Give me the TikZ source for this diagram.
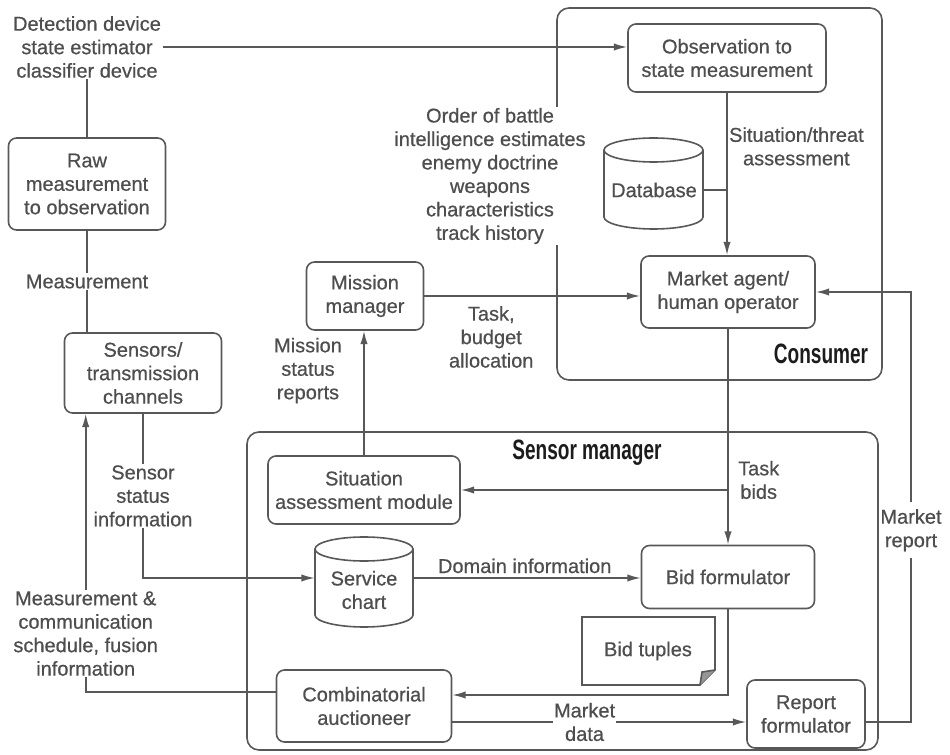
\documentclass[tikz,border=0pt]{standalone}
\usepackage{fontspec}
\setmainfont[FakeBold=0.6]{Liberation Sans}
\newfontfamily\framefont[FakeStretch=0.68]{Liberation Sans}
\usetikzlibrary{arrows.meta}

\definecolor{txtgray}{RGB}{78,78,78}
\definecolor{linegray}{RGB}{88,88,88}
\definecolor{titlegray}{RGB}{28,28,28}
\definecolor{foldgray}{RGB}{150,150,150}

\tikzset{
  basefont/.style={font=\fontsize{15}{17.6}\selectfont},
  box/.style={basefont, draw=linegray, line width=1.2pt, rounded corners=6pt,
    align=center, text=txtgray, inner sep=2pt},
  lbl/.style={basefont, align=center, text=txtgray, inner sep=1pt},
  ln/.style={draw=linegray, line width=1.2pt},
  arr/.style={ln, -{Latex[length=10pt,width=5.5pt]}},
  frame/.style={draw=linegray, line width=1.2pt, rounded corners=9pt},
  title/.style={font=\framefont\bfseries\fontsize{21}{24}\selectfont, text=titlegray, inner sep=1pt}
}

\begin{document}
\begin{tikzpicture}[x=0.75pt, y=-0.75pt]
\useasboundingbox (0,0) rectangle (950,755);

% group frames
\draw[frame] (557,8) rectangle (882,380);
\draw[frame] (247,432) rectangle (878,750);
\node[title] (cons) at (821,354) {Consumer};
\node[title] (smgr) at (587,453) {Sensor manager};

% storage cylinders
\draw[ln, fill=white] (604,150) -- (604,217)
  arc[start angle=180, end angle=360, x radius=37.125pt, y radius=9pt] -- (703,150);
\draw[ln] (653.5,150) ellipse[x radius=37.125pt, y radius=9pt];
\draw[ln, fill=white] (315,549) -- (315,615)
  arc[start angle=180, end angle=360, x radius=36.75pt, y radius=9pt] -- (413,549);
\draw[ln] (364,549) ellipse[x radius=36.75pt, y radius=9pt];

% note with folded corner
\draw[ln] (582,617) -- (715,617) -- (715,670) -- (700,685) -- (582,685) -- cycle;
\fill[foldgray] (715,670) -- (700,685) -- (702,672) -- cycle;
\draw[ln] (715,670) -- (702,672) -- (700,685);

% nodes
\node[lbl] (det) at (87,47) {Detection device\\state estimator\\classifier device};
\node[box, minimum width=117.75pt, minimum height=69pt] (raw) at (87,184) {Raw\\measurement\\to observation};
\node[box, minimum width=117.75pt, minimum height=60pt] (sens) at (143,373) {Sensors/\\transmission\\channels};
\node[box, minimum width=148.5pt, minimum height=51pt] (obs) at (727,58) {Observation to\\state measurement};
\node[lbl, minimum width=74.25pt] (db) at (654,190) {Database};
\node[box, minimum width=130.5pt, minimum height=54pt] (ma) at (728,292) {Market agent/\\human operator};
\node[box, minimum width=87.75pt, minimum height=51pt] (mm) at (365,296) {Mission\\manager};
\node[lbl, fill=white] (ob) at (490,176) {Order of battle\\intelligence estimates\\enemy doctrine\\weapons\\characteristics\\track history};
\node[box, minimum width=144pt, minimum height=51pt] (sam) at (364,490) {Situation\\assessment module};
\node[lbl, minimum width=73.5pt] (sc) at (364,590) {Service\\chart};
\node[box, minimum width=129.75pt, minimum height=47.25pt] (bf) at (728,577) {Bid formulator};
\node[lbl] (bt) at (648,651) {Bid tuples};
\node[box, minimum width=131.25pt, minimum height=54pt] (auct) at (364,706) {Combinatorial\\auctioneer};
\node[box, minimum width=88.5pt, minimum height=51pt] (rf) at (806,714) {Report\\formulator};

\coordinate (scport) at ([yshift=9pt]sc.west);
\coordinate (scout) at ([yshift=9pt]sc.east);
\coordinate (mr) at (911,296);

% connectors
\draw[arr] (det.east) -- (det.east -| obs.west);
\draw[ln] (det.south) -- (raw.north);
\draw[ln] (raw.south) -- node[lbl, fill=white] {Measurement} (raw.south |- sens.north);
\draw[arr] (obs.south) -- node[lbl, right, pos=0.33] {Situation/threat\\assessment} (obs.south |- ma.north);
\draw[ln] (db.east) -- (db.east -| obs.south);
\draw[arr] (mm.east) -- node[lbl, below=6pt, pos=0.31] {Task,\\budget\\allocation} (mm.east -| ma.west);
\draw[arr] (ma.south) -- node[lbl, right=6pt, pos=0.7] {Task\\bids} (ma.south |- bf.north);
\draw[arr] (ma.south |- sam.east) -- (sam.east);
\draw[arr] (sam.north) -- node[lbl, left=15pt, pos=0.68] {Mission\\status\\reports} (sam.north |- mm.south);
\draw[arr] (sens.south) -- node[lbl, fill=white] {Sensor\\status\\information} (sens.south |- scport) -- (scport);
\draw[arr] (scout) -- node[lbl, above=2pt, pos=0.49] {Domain information} (scout -| bf.west);
\draw[arr] (bf.south) |- ([yshift=8.25pt]auct.east);
\draw[arr] ([yshift=-12pt]auct.east) -- node[lbl, fill=white, pos=0.45] {Market\\data} ([yshift=-12pt]auct.east -| rf.west);
\draw[arr] ([yshift=-6pt]rf.east) -- ([yshift=-6pt]rf.east -| mr) -- node[lbl, fill=white, inner ysep=5pt, pos=0.446] {Market\\report} (mr |- ma.east) -- (ma.east);
\draw[arr] ([yshift=10.5pt]auct.west) -| node[lbl, fill=white, pos=0.605] {Measurement \&\\communication\\schedule, fusion\\information} ([xshift=16.5pt]sens.south west);
\end{tikzpicture}
\end{document}
